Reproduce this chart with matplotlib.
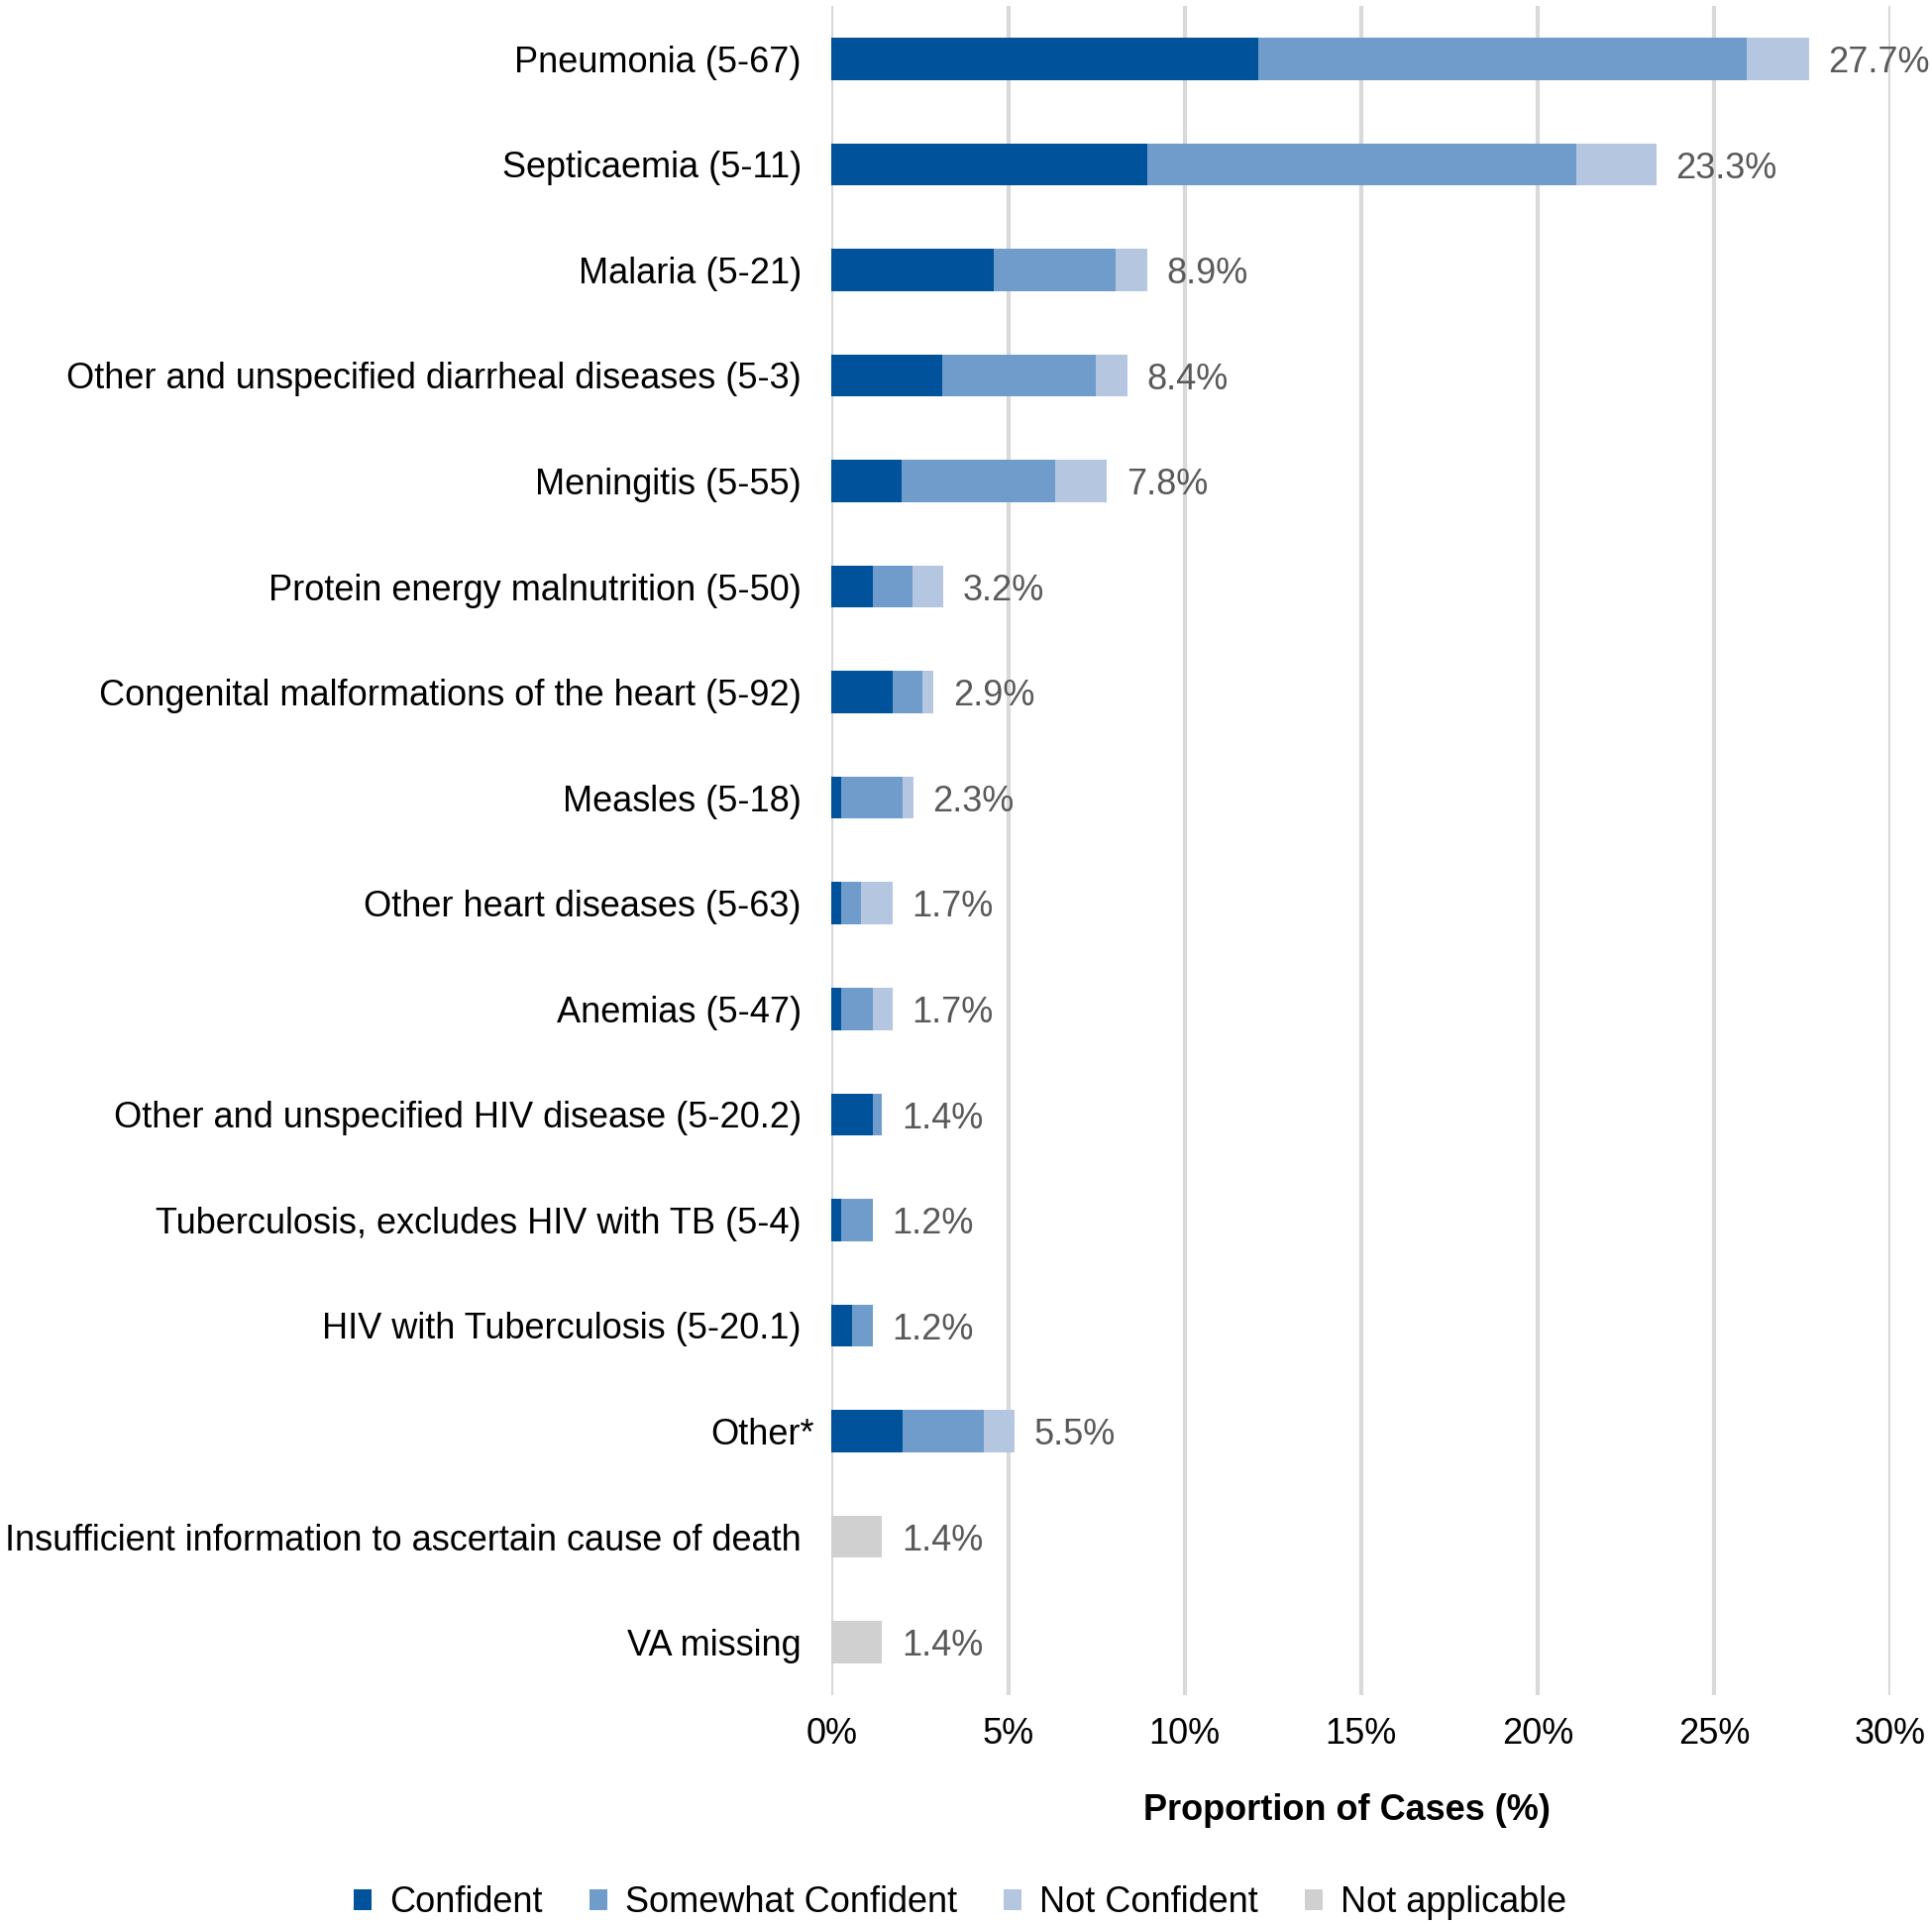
import matplotlib
matplotlib.use("Agg")
import matplotlib.pyplot as plt
import matplotlib.transforms as mtransforms
import numpy as np

categories = [
    "Pneumonia (5-67)",
    "Septicaemia (5-11)",
    "Malaria (5-21)",
    "Other and unspecified diarrheal diseases (5-3)",
    "Meningitis (5-55)",
    "Protein energy malnutrition (5-50)",
    "Congenital malformations of the heart (5-92)",
    "Measles (5-18)",
    "Other heart diseases (5-63)",
    "Anemias (5-47)",
    "Other and unspecified HIV disease (5-20.2)",
    "Tuberculosis, excludes HIV with TB (5-4)",
    "HIV with Tuberculosis (5-20.1)",
    "Other*",
    "Insufficient information to ascertain cause of death",
    "VA missing",
]
confident = [12.1, 8.93, 4.59, 3.14, 1.99, 1.17, 1.73, 0.26, 0.26, 0.26, 1.17, 0.26, 0.58, 2.0, 0, 0]
somewhat = [13.84, 12.16, 3.45, 4.33, 4.33, 1.13, 0.84, 1.74, 0.58, 0.9, 0.26, 0.9, 0.58, 2.31, 0, 0]
not_confident = [1.75, 2.28, 0.89, 0.9, 1.48, 0.86, 0.32, 0.31, 0.89, 0.57, 0, 0, 0, 0.88, 0, 0]
not_applicable = [0, 0, 0, 0, 0, 0, 0, 0, 0, 0, 0, 0, 0, 0, 1.43, 1.43]
total_labels = ["27.7%", "23.3%", "8.9%", "8.4%", "7.8%", "3.2%", "2.9%", "2.3%",
                "1.7%", "1.7%", "1.4%", "1.2%", "1.2%", "5.5%", "1.4%", "1.4%"]
series_names = ["Confident", "Somewhat Confident", "Not Confident", "Not applicable"]
colors = ["#00529B", "#709CCB", "#B4C6E0", "#D0D0D0"]
xticks = [0, 5, 10, 15, 20, 25, 30]

plt.rcParams['font.family'] = ['Liberation Sans', 'DejaVu Sans']
fs = 26

fig = plt.figure(figsize=(19.5, 19.42), dpi=100)
ax = fig.add_axes([0.4305, 0.119, 0.9785 - 0.4305, 0.9969 - 0.119])

y = np.arange(len(categories))
left = np.zeros(len(categories))
series = [confident, somewhat, not_confident, not_applicable]
for vals, name, c in zip(series, series_names, colors):
    vals = np.array(vals, dtype=float)
    ax.barh(y, vals, left=left, height=0.4, color=c, label=name, zorder=3)
    left += vals

for yi, tot, lab in zip(y, left, total_labels):
    ax.annotate(lab, xy=(tot, yi), xytext=(14, -3), textcoords="offset points",
                ha="left", va="center", fontsize=fs, color="#595959", zorder=4)

ax.set_ylim(len(categories) - 0.5, -0.5)
ax.set_xlim(0, 30)
ax.set_yticks(y)
ax.set_yticklabels(categories, fontsize=fs)
ax.set_xticks(xticks)
ax.set_xticklabels([f"{t}%" for t in xticks], fontsize=fs)
ax.tick_params(axis="y", length=0, pad=22)
ax.tick_params(axis="x", length=0, pad=16)
for s in ax.spines.values():
    s.set_visible(False)
ax.grid(axis="x", color="#D9D9D9", linewidth=3, zorder=0)
ax.set_axisbelow(True)
ax.set_xlabel("Proportion of Cases (%)", fontsize=fs, fontweight="bold", labelpad=31)
ax.xaxis.set_label_coords(0.487, -0.058)

# "Other*" label sits slightly further right in the reference
for tl in ax.get_yticklabels():
    if tl.get_text() == "Other*":
        tl.set_transform(tl.get_transform() + mtransforms.ScaledTranslation(9 / 72, 0, fig.dpi_scale_trans))

handles, labels = ax.get_legend_handles_labels()
fig.legend(handles, labels, loc="center", bbox_to_anchor=(0.497, 0.011), ncol=4,
           frameon=False, fontsize=fs, handlelength=0.5, handleheight=0.5,
           handletextpad=0.5, columnspacing=1.3)

fig.savefig("out.png", dpi=100)
